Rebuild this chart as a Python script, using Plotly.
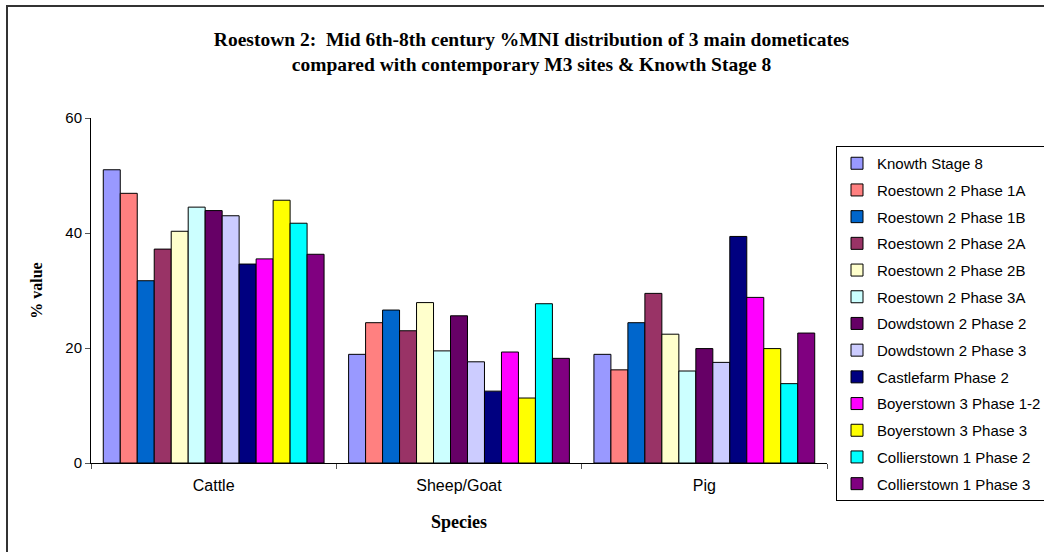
import plotly.graph_objects as go

species = ["Cattle", "Sheep/Goat", "Pig"]

series_names = [
    "Knowth Stage 8",
    "Roestown 2 Phase 1A",
    "Roestown 2 Phase 1B",
    "Roestown 2 Phase 2A",
    "Roestown 2 Phase 2B",
    "Roestown 2 Phase 3A",
    "Dowdstown 2 Phase 2",
    "Dowdstown 2 Phase 3",
    "Castlefarm Phase 2",
    "Boyerstown 3 Phase 1-2",
    "Boyerstown 3 Phase 3",
    "Collierstown 1 Phase 2",
    "Collierstown 1 Phase 3",
]

knowth_8 = [51.0, 18.9, 18.9]
roestown_1a = [46.9, 24.4, 16.2]
roestown_1b = [31.7, 26.6, 24.4]
roestown_2a = [37.2, 23.0, 29.5]
roestown_2b = [40.3, 27.9, 22.4]
roestown_3a = [44.5, 19.5, 16.0]
dowdstown_p2 = [43.9, 25.6, 19.9]
dowdstown_p3 = [43.0, 17.6, 17.5]
castlefarm_p2 = [34.6, 12.5, 39.4]
boyerstown_p12 = [35.5, 19.3, 28.8]
boyerstown_p3 = [45.7, 11.3, 19.9]
collierstown_p2 = [41.7, 27.7, 13.8]
collierstown_p3 = [36.3, 18.2, 22.6]

series_values = [
    knowth_8, roestown_1a, roestown_1b, roestown_2a, roestown_2b, roestown_3a,
    dowdstown_p2, dowdstown_p3, castlefarm_p2, boyerstown_p12, boyerstown_p3,
    collierstown_p2, collierstown_p3,
]

colors = [
    "#9999FF", "#FF8080", "#0066CC", "#993366", "#FFFFCC", "#CCFFFF",
    "#660066", "#CCCCFF", "#000080", "#FF00FF", "#FFFF00", "#00FFFF", "#800080",
]

y_ticks = [0, 20, 40, 60]

title_lines = [
    "Roestown 2:  Mid 6th-8th century %MNI distribution of 3 main dometicates",
    "compared with contemporary M3 sites & Knowth Stage 8",
]

W, H = 1044, 552
L, R, T, B = 91, 217, 118, 89
pw, ph = W - L - R, H - T - B

def px_x(p):
    return (p - L) / pw

def px_y(p):
    return (H - B - p) / ph

fig = go.Figure()
for i, (name, vals, col) in enumerate(zip(series_names, series_values, colors)):
    fig.add_trace(go.Bar(
        x=species, y=vals, name=name, legendgroup=f"g{i}",
        marker=dict(color=col, line=dict(color="#000000", width=1)),
    ))

sans = "Liberation Sans, Arial, sans-serif"
serif = "Liberation Serif, Times New Roman, serif"

fig.update_layout(
    width=W, height=H,
    margin=dict(l=L, r=R, t=T, b=B, autoexpand=False),
    paper_bgcolor="white", plot_bgcolor="white",
    barmode="group", bargap=0.1, bargroupgap=0,
    title=dict(
        text="<b>" + "<br>".join(title_lines) + "</b>",
        font=dict(family=serif, size=19.5, color="#000000"),
        x=531.5 / W, xref="container", xanchor="center",
        y=1 - 46 / H, yref="container", yanchor="top",
    ),
    xaxis=dict(
        showline=True, linecolor="#000000", linewidth=1,
        ticks="outside", tickson="boundaries", ticklen=5, tickcolor="#555555",
        tickfont=dict(family=sans, size=16, color="#000000"),
        ticklabelstandoff=8,
        showgrid=False,
        title=dict(text="<b>Species</b>", font=dict(family=serif, size=18, color="#000000"), standoff=22),
    ),
    yaxis=dict(
        range=[0, 60], tickvals=y_ticks,
        showline=True, linecolor="#000000", linewidth=1,
        ticks="outside", ticklen=5, tickcolor="#555555",
        tickfont=dict(family=sans, size=15, color="#000000"),
        showgrid=False, zeroline=False,
        title=dict(text="<b>% value</b>", font=dict(family=serif, size=16, color="#000000"), standoff=18),
    ),
    legend=dict(
        x=px_x(836), y=px_y(146), xanchor="left", yanchor="top",
        xref="paper", yref="paper",
        font=dict(family=sans, size=15, color="#000000"),
        bordercolor="#000000", borderwidth=1, bgcolor="white",
        traceorder="grouped", tracegroupgap=4.2,
        maxheight=420,
    ),
    shapes=[dict(
        type="rect", xref="paper", yref="paper",
        x0=px_x(7), x1=px_x(1100), y0=px_y(600), y1=px_y(6),
        line=dict(color="#333333", width=2), fillcolor="rgba(0,0,0,0)", layer="below",
    )],
)

fig.write_html("out.html")
